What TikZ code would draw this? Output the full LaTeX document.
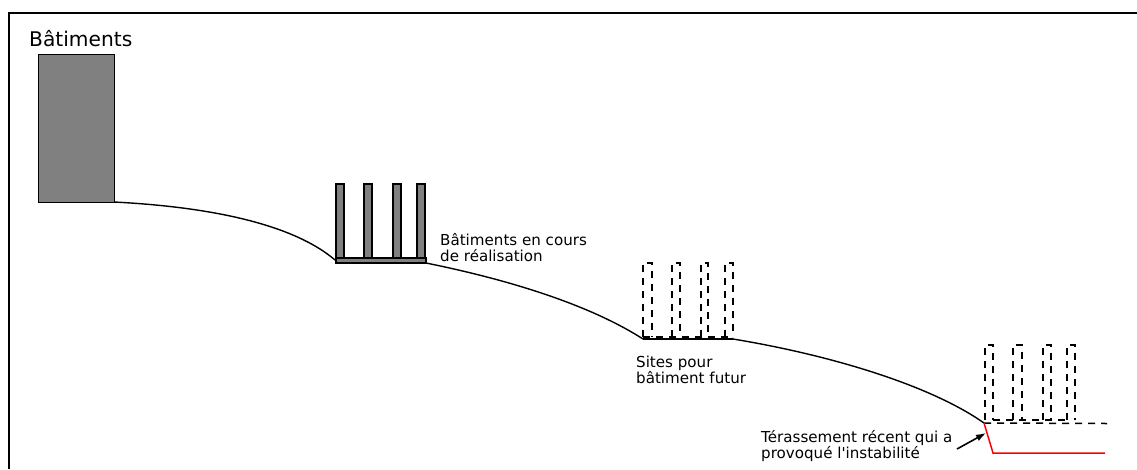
\documentclass[tikz,border=0pt]{standalone}
\usepackage{fontspec}
\setmainfont{DejaVu Sans}
\usetikzlibrary{arrows.meta}
\begin{document}
\begin{tikzpicture}[x=1pt,y=-1pt,
  frameline/.style={line width=1.6pt, black},
  ground/.style={line width=1.4pt, black},
  post/.style={draw=black, line width=1.1pt, fill=black!50},
  ghost/.style={draw=black, line width=1.5pt, dash pattern=on 7pt off 6pt},
  cut/.style={line width=1.5pt, red},
  pointer/.style={line width=1.6pt, black, -{Latex[length=10pt,width=7pt]}},
  bigtext/.style={inner sep=0pt, anchor=base west, font=\fontsize{20.2}{24}\selectfont},
  note/.style={inner sep=0pt, anchor=base west, font=\fontsize{15.1}{16}\selectfont}
]
\useasboundingbox (0,0) rectangle (1137,469);

% frame (open at right and bottom)
\draw[frameline] (9,469) -- (9,13) -- (1137,13);

% existing building
\node[bigtext] (titre) at (29,46) {Bâtiments};
\draw[post, line width=0.8pt] (38,54) rectangle (114,202);

% slope, upper part
\coordinate (g0) at (114,202);
\coordinate (g1) at (335,260);
\draw[ground] (g0) .. controls (230,208) and (300,230) .. (g1);

% buildings under construction
\draw[post] (336,258) rectangle (426,263);
\foreach \a/\b in {336/344, 364/372, 393/401, 417/425}
  \draw[post] (\a,184) rectangle (\b,258);
\node[note] (encours) at (440,245)
  {\begin{tabular}[t]{@{}l@{}}Bâtiments en cours\\de réalisation\end{tabular}};

% slope, middle part
\coordinate (g2) at (426,263);
\coordinate (g3) at (643,339);
\draw[ground] (g2) .. controls (510,280) and (590,305) .. (g3);

% future building sites
\coordinate (g4) at (733,339);
\draw[ground] (g3) -- (g4);
\foreach \a/\b in {643/652, 672/680, 701/708, 725/733}
  \draw[ghost] (\a,337) -- (\a,263) -- (\b,263) -- (\b,337);
\draw[ghost] (643,337) -- (733,337);
\node[note] (sites) at (636,367)
  {\begin{tabular}[t]{@{}l@{}}Sites pour\\bâtiment futur\end{tabular}};

% slope, lower part
\coordinate (g5) at (984,423);
\draw[ground] (g4) .. controls (830,355) and (930,385) .. (g5);

% buildings on the new terrace
\foreach \a/\b in {985/993, 1013/1022, 1043/1051, 1067/1075}
  \draw[ghost] (\a,420) -- (\a,345) -- (\b,345) -- (\b,420);
\draw[ghost] (993,420) -- (1067,420);
\coordinate (t1) at (1107,423.5);
\draw[ghost] (g5) -- (t1);

% recent excavation
\coordinate (r1) at (993,453);
\coordinate (r2) at (1105,453);
\draw[cut] (g5) -- (r1) -- (r2);

\node[note] (terrasse) at (761,442)
  {\begin{tabular}[t]{@{}l@{}}Térassement récent qui a\\provoqué l\textquotesingle instabilité\end{tabular}};
\coordinate (tail) at (957,449);
\coordinate (tip) at (986,433);
\draw[pointer] (tail) -- (tip);
\end{tikzpicture}
\end{document}
